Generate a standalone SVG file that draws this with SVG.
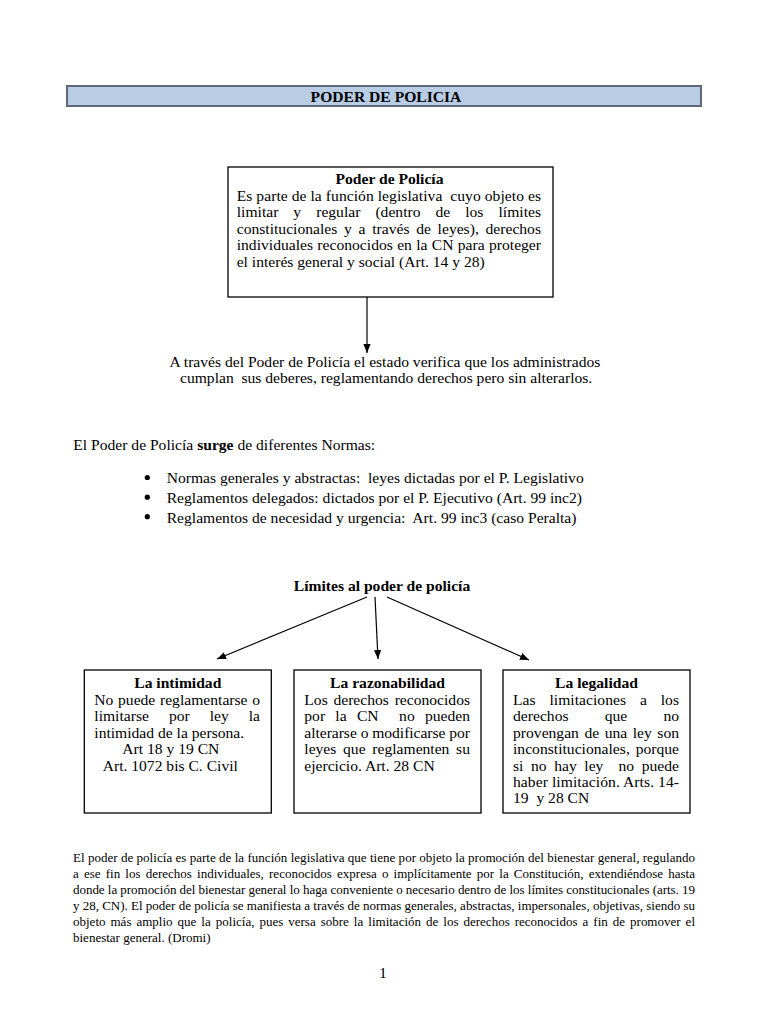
<svg xmlns="http://www.w3.org/2000/svg" width="768" height="1024" viewBox="0 0 768 1024">
<style>
.t{font-family:"Liberation Serif","Times New Roman",serif;font-size:15.6px;fill:#000}
.b{font-weight:bold}
.p{font-size:13px}
.box{fill:#fff;stroke:#000;stroke-width:1.3}
.conn{stroke:#000;stroke-width:1.2;fill:none;marker-end:url(#ah)}
</style>
<defs>
<marker id="ah" viewBox="0 0 10 8" refX="10" refY="4" markerWidth="9" markerHeight="7.2" markerUnits="userSpaceOnUse" orient="auto">
<path d="M0,0 L10,4 L0,8 z" fill="#000"/>
</marker>
</defs>
<rect width="768" height="1024" fill="#fff"/>

<g id="title">
<rect x="67" y="86" width="634" height="20" fill="#b8cce4" stroke="#5f6878" stroke-width="2"/>
<text class="t b" x="386" y="101.5" text-anchor="middle">PODER DE POLICIA</text>
</g>

<g id="poder">
<rect class="box" x="228" y="167" width="325" height="130"/>
<text class="t b" x="389.5" y="184" text-anchor="middle">Poder de Policía</text>
<text class="t" x="236.7" y="200.5" xml:space="preserve" textLength="304.3" lengthAdjust="spacing">Es parte de la función legislativa  cuyo objeto es</text>
<text class="t" x="236.7" y="217" textLength="304.3" lengthAdjust="spacing" style="word-spacing:11.1px">limitar y regular (dentro de los límites</text>
<text class="t" x="236.7" y="233.5" textLength="304.3" lengthAdjust="spacing" style="word-spacing:2.8px">constitucionales y a través de leyes), derechos</text>
<text class="t" x="236.7" y="250" textLength="304.3" lengthAdjust="spacing" style="word-spacing:0.4px">individuales reconocidos en la CN para proteger</text>
<text class="t" x="236.7" y="266.5">el interés general y social (Art. 14 y 28)</text>
</g>

<g id="verifica">
<text class="t" x="169.5" y="366.7">A través del Poder de Policía el estado verifica que los administrados</text>
<text class="t" x="180" y="383.3" xml:space="preserve">cumplan  sus deberes, reglamentando derechos pero sin alterarlos.</text>
</g>

<g id="normas">
<text class="t" x="73.3" y="450">El Poder de Policía <tspan class="b">surge</tspan> de diferentes Normas:</text>
<circle cx="147.3" cy="477.5" r="2.6" fill="#000"/>
<circle cx="147.3" cy="497.2" r="2.6" fill="#000"/>
<circle cx="147.3" cy="516.7" r="2.6" fill="#000"/>
<text class="t" x="166.7" y="483.3" xml:space="preserve">Normas generales y abstractas:  leyes dictadas por el P. Legislativo</text>
<text class="t" x="166.7" y="503">Reglamentos delegados: dictados por el P. Ejecutivo (Art. 99 inc2)</text>
<text class="t" x="166.7" y="522.5" xml:space="preserve">Reglamentos de necesidad y urgencia:  Art. 99 inc3 (caso Peralta)</text>
</g>

<g id="limites">
<text class="t b" x="382" y="591" text-anchor="middle">Límites al poder de policía</text>
</g>

<g id="intimidad">
<rect class="box" x="84.3" y="670" width="187" height="143"/>
<text class="t b" x="177.8" y="688" text-anchor="middle">La intimidad</text>
<text class="t" x="94.3" y="705" textLength="165.7" lengthAdjust="spacing" style="word-spacing:0.8px">No puede reglamentarse o</text>
<text class="t" x="94.3" y="721.4" textLength="165.7" lengthAdjust="spacing" style="word-spacing:16.1px">limitarse por ley la</text>
<text class="t" x="94.3" y="737.8">intimidad de la persona.</text>
<text class="t" x="122.3" y="754.2">Art 18 y 19 CN</text>
<text class="t" x="102.7" y="770.6">Art. 1072 bis C. Civil</text>
</g>

<g id="razonabilidad">
<rect class="box" x="294" y="670" width="187" height="143"/>
<text class="t b" x="387.5" y="688" text-anchor="middle">La razonabilidad</text>
<text class="t" x="304.3" y="705" textLength="165.7" lengthAdjust="spacing" style="word-spacing:1.85px">Los derechos reconocidos</text>
<text class="t" x="304.3" y="721.4" xml:space="preserve" textLength="165.7" lengthAdjust="spacing" style="word-spacing:6.36px">por la CN  no pueden</text>
<text class="t" x="304.3" y="737.8" textLength="165.7" lengthAdjust="spacing">alterarse o modificarse por</text>
<text class="t" x="304.3" y="754.2" textLength="165.7" lengthAdjust="spacing" style="word-spacing:2.8px">leyes que reglamenten su</text>
<text class="t" x="304.3" y="770.6">ejercicio. Art. 28 CN</text>
</g>

<g id="legalidad">
<rect class="box" x="503" y="670" width="187" height="143"/>
<text class="t b" x="596.5" y="688" text-anchor="middle">La legalidad</text>
<text class="t" x="513" y="705" textLength="166" lengthAdjust="spacing" style="word-spacing:10px">Las limitaciones a los</text>
<text class="t" x="513" y="721.4" textLength="166" lengthAdjust="spacing" style="word-spacing:32.2px">derechos que no</text>
<text class="t" x="513" y="737.8" textLength="166" lengthAdjust="spacing" style="word-spacing:1.6px">provengan de una ley son</text>
<text class="t" x="513" y="754.2" textLength="166" lengthAdjust="spacing" style="word-spacing:1.9px">inconstitucionales, porque</text>
<text class="t" x="513" y="770.6" xml:space="preserve" textLength="166" lengthAdjust="spacing" style="word-spacing:3.65px">si no hay ley  no puede</text>
<text class="t" x="513" y="787" textLength="166" lengthAdjust="spacing">haber limitación. Arts. 14-</text>
<text class="t" x="513" y="803.4" xml:space="preserve">19  y 28 CN</text>
</g>

<g id="connectors">
<line class="conn" x1="367" y1="297" x2="367" y2="353"/>
<line class="conn" x1="367" y1="597" x2="217" y2="659"/>
<line class="conn" x1="375" y1="597" x2="378" y2="659"/>
<line class="conn" x1="387" y1="597" x2="529" y2="660"/>
</g>

<g id="dromi">
<text class="t p" x="73" y="862" textLength="622" lengthAdjust="spacing">El poder de policía es parte de la función legislativa que tiene por objeto la promoción del bienestar general, regulando</text>
<text class="t p" x="73" y="878" textLength="622" lengthAdjust="spacing" style="word-spacing:1.9px">a ese fin los derechos individuales, reconocidos expresa o implícitamente por la Constitución, extendiéndose hasta</text>
<text class="t p" x="73" y="894" textLength="622" lengthAdjust="spacing">donde la promoción del bienestar general lo haga conveniente o necesario dentro de los límites constitucionales (arts. 19</text>
<text class="t p" x="73" y="910" textLength="622" lengthAdjust="spacing">y 28, CN). El poder de policía se manifiesta a través de normas generales, abstractas, impersonales, objetivas, siendo su</text>
<text class="t p" x="73" y="926" textLength="622" lengthAdjust="spacing" style="word-spacing:1.76px">objeto más amplio que la policía, pues versa sobre la limitación de los derechos reconocidos a fin de promover el</text>
<text class="t p" x="73" y="942">bienestar general. (Dromi)</text>
</g>

<g id="pagina">
<text class="t" x="383" y="978" text-anchor="middle">1</text>
</g>
</svg>
